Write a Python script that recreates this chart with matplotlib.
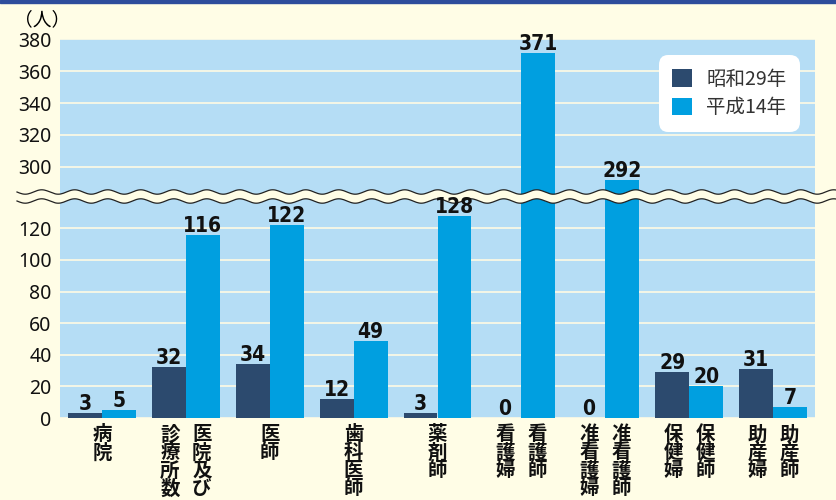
import numpy as np
import matplotlib
matplotlib.use("Agg")
import matplotlib.pyplot as plt
from matplotlib.patches import Rectangle, Polygon
from matplotlib.lines import Line2D
from matplotlib.transforms import offset_copy

plt.rcParams['font.family'] = ['Noto Sans CJK JP', 'DejaVu Sans']

# data
groups = ["病院", "診療所数", "医師", "歯科医師", "薬剤師", "看護婦", "准看護婦", "保健婦", "助産婦"]
s29 = [3, 32, 34, 12, 3, 0, 0, 29, 31]
h14 = [5, 116, 122, 49, 128, 371, 292, 20, 7]
# one label -> centred under group, two labels -> under each bar
xlabels = [
    ["病院"],
    ["診療所数", "医院及び"],
    ["医師"],
    ["歯科医師"],
    ["薬剤師"],
    ["看護婦", "看護師"],
    ["准看護婦", "准看護師"],
    ["保健婦", "保健師"],
    ["助産婦", "助産師"],
]
series_names = ["昭和29年", "平成14年"]
upper_ticks = [300, 320, 340, 360, 380]
lower_ticks = [0, 20, 40, 60, 80, 100, 120]

W, H = 836, 500
BG = "#FFFDE6"
PLOT_BG = "#B5DDF5"
GRID = "#FFFBE3"
DARK = "#2C4A6E"
LIGHT = "#009FE0"

fig = plt.figure(figsize=(W / 100, H / 100), dpi=100, facecolor=BG)

left, right = 60, 815
top, brk, bottom = 39, 197, 418


def box(y0, y1):
    return [left / W, 1 - y1 / H, (right - left) / W, (y1 - y0) / H]


ax_up = fig.add_axes(box(top, brk))
ax_lo = fig.add_axes(box(brk, bottom))

x = np.arange(len(groups))
bw = 34 / 84

for ax in (ax_up, ax_lo):
    ax.set_facecolor(PLOT_BG)
    ax.bar(x - bw / 2, s29, bw, color=DARK, zorder=3, label=series_names[0])
    ax.bar(x + bw / 2, h14, bw, color=LIGHT, zorder=3, label=series_names[1])
    ax.set_xlim(-0.5, len(groups) - 0.5)
    for s in ax.spines.values():
        s.set_visible(False)
    ax.set_xticks([])
    ax.tick_params(axis='y', length=0, pad=6)
    ax.yaxis.grid(True, color=GRID, linewidth=1.2, zorder=1)
    ax.set_axisbelow(True)

ax_up.set_ylim(380 - (brk - top) / 1.6, 380)
ax_up.set_yticks(upper_ticks)
ax_lo.set_ylim(0, (bottom - brk) / 1.58)
ax_lo.set_yticks(lower_ticks)
for ax in (ax_up, ax_lo):
    for lab in ax.get_yticklabels():
        lab.set_family(['Noto Sans', 'DejaVu Sans'])
        lab.set_fontsize(14)
        lab.set_color('#111111')

# value labels (narrow bold digits), drawn on top of the break band
vfont = dict(family='DejaVu Sans', stretch='condensed', weight='bold', fontsize=15)
for vals, off in ((s29, -bw / 2), (h14, bw / 2)):
    for i, v in enumerate(vals):
        ax = ax_up if v > 200 else ax_lo
        tr = offset_copy(ax.transData, fig=fig, x=0, y=3, units='dots')
        fig.text(x[i] + off, v, str(v), transform=tr, ha='center', va='baseline',
                 zorder=13, color='#111111', **vfont)

# vertical category labels
pitch = 18
for i, labs in enumerate(xlabels):
    offs = [0] if len(labs) == 1 else [-0.19, 0.19]
    for lab, o in zip(labs, offs):
        for k, ch in enumerate(lab):
            ax_lo.annotate(ch, (x[i] + o, 0), xycoords='data',
                           xytext=(0, -(17 + k * pitch) * 0.72), textcoords='offset points',
                           ha='center', va='center', fontsize=14, fontweight='bold',
                           color='#111111', annotation_clip=False)

# legend
leg = ax_up.legend(loc='upper right', bbox_to_anchor=(1 - 15 / 755, 1 - 16 / (brk - top)),
                   borderaxespad=0, fontsize=14, handlelength=1.0, handleheight=1.0,
                   handletextpad=0.75, labelspacing=0.4, borderpad=0.7,
                   frameon=True, fancybox=True, framealpha=1, facecolor='white',
                   edgecolor='none')
leg.get_frame().set_boxstyle('round,pad=0,rounding_size=0.5')
for t in leg.get_texts():
    t.set_color('#333333')

# break band (wavy)
xs = np.linspace(17, W, 600)
amp, period = 2.2, 33.0
wave = amp * np.sin(2 * np.pi * (xs - 17) / period)
y1 = 192 + wave
y2 = 201 + wave
poly = np.column_stack([np.r_[xs, xs[::-1]] / W, 1 - np.r_[y1, y2[::-1]] / H])
fig.add_artist(Polygon(poly, closed=True, facecolor=BG, edgecolor='none',
                       transform=fig.transFigure, zorder=10))
for yy in (y1, y2):
    fig.add_artist(Line2D(xs / W, 1 - yy / H, color='#222222', linewidth=0.9,
                          transform=fig.transFigure, zorder=11))

# unit label and top strip
fig.text(14 / W, 1 - 20 / H, "（人）", fontsize=13.5, ha='left', va='center')
fig.add_artist(Rectangle((0, 1 - 3 / H), 1, 3 / H, transform=fig.transFigure,
                         color='#2E4D9C', zorder=12))

fig.savefig("out.png", dpi=100, facecolor=BG)
